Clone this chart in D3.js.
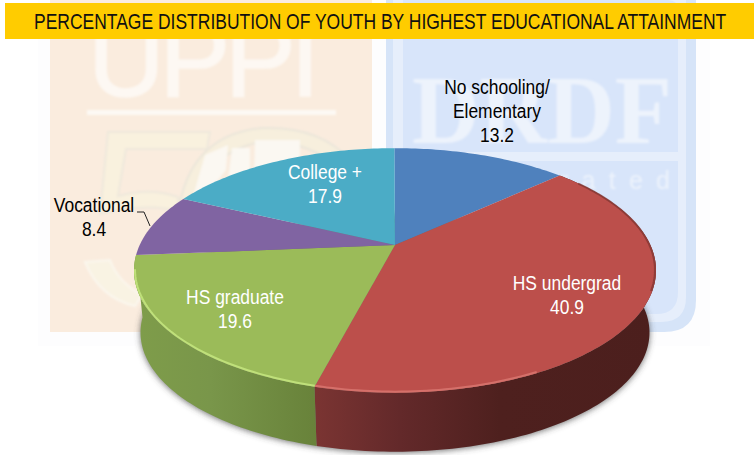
<!DOCTYPE html>
<html><head><meta charset="utf-8">
<script src="https://cdn.jsdelivr.net/npm/d3@7/dist/d3.min.js"></script>
<style>html,body{margin:0;padding:0;background:#fff}svg{display:block}
text{font-family:"Liberation Sans",Arial,sans-serif}</style>
</head><body><svg id="c" width="754" height="455"></svg>
<script>
const titleText = "PERCENTAGE DISTRIBUTION OF YOUTH BY HIGHEST EDUCATIONAL ATTAINMENT";
const categories = ["No schooling/Elementary","HS undergrad","HS graduate","Vocational","College +"];
const values = [13.2,40.9,19.6,8.4,17.9];
const topColors = ["#4f81bd","#bc4f4b","#9bbb59","#8064a2","#4bacc6"];
const labelLines = [["No schooling/","Elementary","13.2"],["HS undergrad","40.9"],["HS graduate","19.6"],["Vocational","8.4"],["College +","17.9"]];
const labelColors = ["#000","#fff","#fff","#000","#fff"];
const labelPlace = [[497,87],[567,283],[235,297],[94,205],[325,172]];

const svg = d3.select("#c");
const defs = svg.append("defs");
const blur=defs.append("filter").attr("id","blur").attr("x","-10%").attr("y","-10%").attr("width","120%").attr("height","120%");
blur.append("feGaussianBlur").attr("stdDeviation",3);
const soft=defs.append("filter").attr("id","soft").attr("x","-5%").attr("y","-5%").attr("width","110%").attr("height","110%");
soft.append("feGaussianBlur").attr("stdDeviation",0.7);
const haze=defs.append("filter").attr("id","haze").attr("x","-5%").attr("y","-5%").attr("width","110%").attr("height","110%");
haze.append("feGaussianBlur").attr("stdDeviation",1);

/* ---- washed-out backdrop ---- */
const bg = svg.append("g");
bg.append("rect").attr("x",38).attr("y",0).attr("width",672).attr("height",346).attr("fill","#fdfdfe");
bg.append("rect").attr("x",50).attr("y",0).attr("width",322).attr("height",332).attr("fill","#faecde");
bg.append("path").attr("d","M386 0H696V300Q696 332 664 332H386Z").attr("fill","#d6e4f8");
bg.append("path").attr("d","M393 0H686V297Q686 322 661 322H393Z").attr("fill","#e6eefb");
bg.append("path").attr("d","M403 0H668Q678 0 678 10V152H403Z").attr("fill","#d8e5fa");
bg.append("path").attr("d","M403 161H678V292Q678 314 656 314H403Z").attr("fill","#d8e5fa");
const wm = bg.append("g").attr("filter","url(#haze)");
wm.append("text").attr("x",88).attr("y",96).attr("font-size",106).attr("fill","#fdf8f3")
  .attr("stroke","#fdf8f3").attr("stroke-width",1.5)
  .attr("textLength",232).attr("lengthAdjust","spacing").text("UPPI");
wm.append("rect").attr("x",87).attr("y",110).attr("width",249).attr("height",5).attr("fill","#fdf9f4");
wm.append("text").attr("x",412).attr("y",143).attr("font-size",98).attr("fill","#edf3fc")
  .attr("textLength",260).attr("lengthAdjust","spacingAndGlyphs").style("font-family","'Liberation Serif'").style("font-weight","bold").text("DRDF");
wm.append("text").attr("x",560).attr("y",189).attr("font-size",25).attr("fill","#edf3fc")
  .attr("textLength",110).attr("lengthAdjust","spacing").text("rated");
/* faded "50" emblem */
wm.append("path").attr("d","M108 132H210L207 149H126L118 196Q150 187 178 197L180 212Q150 202 100 214Z")
  .attr("fill","#f9f1de").attr("stroke","#eee8dc").attr("stroke-width",2);
wm.append("path").attr("d","M85 262L110 260Q118 282 142 295L135 306Q100 298 85 262Z")
  .attr("fill","#f9f3e3").attr("stroke","#fbf7ee").attr("stroke-width",2);
wm.append("path").attr("d","M178 215Q188 135 262 128Q320 126 350 160L340 170Q310 140 262 142Q205 150 192 215Z")
  .attr("fill","#f7efdd").attr("stroke","#ebe6da").attr("stroke-width",2);
wm.append("path").attr("d","M205 155L228 145L226 170L210 190L192 200Z M232 148H250V178L228 180Z M255 140H300V165L254 180Z").attr("fill","#fbf8f2");

/* ---- title band ---- */
svg.append("rect").attr("x",5).attr("y",3).attr("width",749).attr("height",36).attr("fill","#ffcc00");
const tt = svg.append("text").attr("font-size",21.5).attr("fill","#111").text(titleText);
tt.attr("transform","translate(34,29) scale("+(693/tt.node().getComputedTextLength())+",1)");

/* ---- perspective pie ---- */
const tilt = 0.208;
const sx = d3.scaleLinear().domain([-1,1]).range([395-255.3,395+255.3]);
const sy = d3.scaleLinear().domain([-1,1]).range([245+117,245-117]);
function project(angle,scale,dy){
  const u=Math.sin(angle), v=Math.cos(angle), w=1+tilt*v;
  return [395+(sx(u)-395)/w*scale, 245+dy+(sy(v)-245)/w*scale];
}
const line = d3.line();
const turn = -0.003;
const pie = d3.pie().sort(null).startAngle(turn).endAngle(2*Math.PI+turn).value(d=>d)(values);
function rim(a0,a1,scale,dy){
  const n=Math.max(2,Math.ceil((a1-a0)/0.02));
  return d3.range(n+1).map(i=>project(a0+(a1-a0)*i/n,scale,dy));
}
const lowScale=0.975, lowDy=62.7;

/* shadow */
svg.append("path").attr("d",line(rim(0,2*Math.PI,lowScale,lowDy))+"Z")
  .attr("transform","translate(0,1)").attr("fill","#444").attr("fill-opacity",.75).attr("filter","url(#blur)");

/* wall gradients */
const wallStops = {
  1:[[317,"#7a3432"],[400,"#63292a"],[500,"#4e201e"],[660,"#4c1f1d"]],
  2:[[130,"#7f9d4a"],[210,"#79964a"],[317,"#68823a"]]
};
[1,2].forEach(i=>{
  const x0=wallStops[i][0][0],x1=wallStops[i][wallStops[i].length-1][0];
  const g=defs.append("linearGradient").attr("id","wall"+i).attr("gradientUnits","userSpaceOnUse")
    .attr("x1",x0).attr("x2",x1).attr("y1",0).attr("y2",0);
  wallStops[i].forEach(s=>g.append("stop").attr("offset",(s[0]-x0)/(x1-x0)).attr("stop-color",s[1]));
});
const walls = svg.append("g");
[1,2].forEach(i=>{
  const d=pie[i];
  walls.append("path")
    .attr("d",line(rim(d.startAngle,d.endAngle,1,0).concat(rim(d.startAngle,d.endAngle,lowScale,lowDy).reverse()))+"Z")
    .attr("fill","url(#wall"+i+")");
});

/* top face */
const faces = svg.append("g");
faces.selectAll("path").data(pie).join("path")
  .attr("d",d=>line([[395,245]].concat(rim(d.startAngle,d.endAngle,1,0)))+"Z")
  .attr("fill",(d,i)=>topColors[i]);
/* rim light and bevel */
svg.append("path").attr("d",line(rim(Math.PI*0.85,pie[1].endAngle,0.996,-0.5))).attr("fill","none")
  .attr("stroke","#d5706a").attr("stroke-width",2).attr("filter","url(#soft)");
svg.append("path").attr("d",line(rim(pie[2].startAngle,pie[2].endAngle-0.12,0.996,-0.5))).attr("fill","none")
  .attr("stroke","#bfe07a").attr("stroke-width",2).attr("filter","url(#soft)");
svg.append("path").attr("d",line(rim(Math.PI*0.3,Math.PI*0.62,0.996,-0.3))).attr("fill","none")
  .attr("stroke","#7e3330").attr("stroke-width",2).attr("stroke-opacity",.7).attr("filter","url(#soft)");

/* labels */
const labels = svg.append("g").attr("font-size",21).attr("text-anchor","middle");
labelLines.forEach((ls,i)=>{
  ls.forEach((t,j)=>labels.append("text")
    .attr("transform","translate("+labelPlace[i][0]+","+(labelPlace[i][1]+j*24+7)+") scale(0.83,1)")
    .attr("fill",labelColors[i]).text(t));
});
/* Vocational leader */
svg.append("path").attr("d",line([[137,212],[144,212],[150,226]])).attr("fill","none").attr("stroke","#222").attr("stroke-width",1);
</script></body></html>
